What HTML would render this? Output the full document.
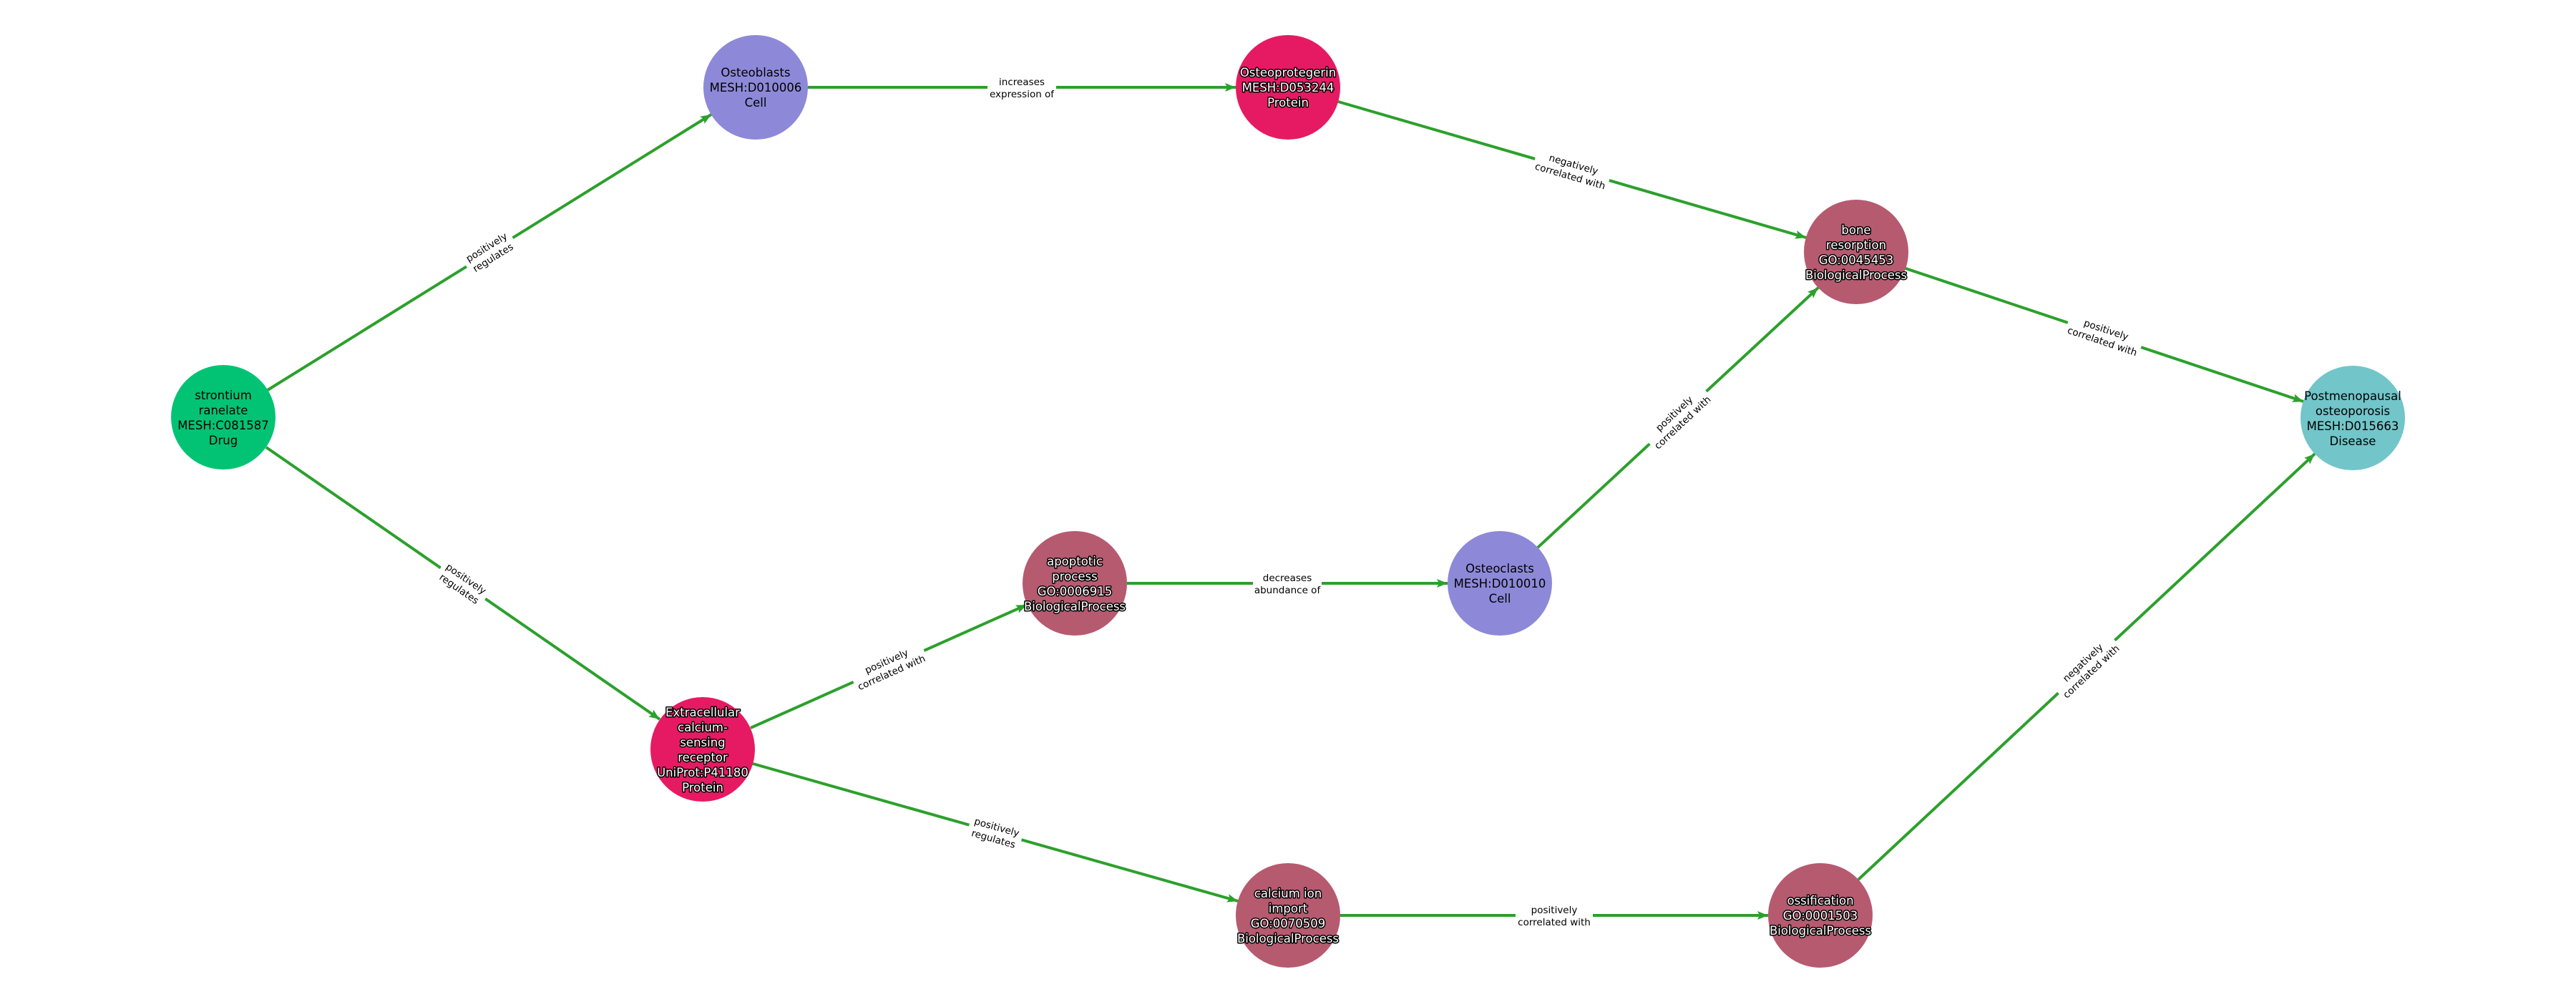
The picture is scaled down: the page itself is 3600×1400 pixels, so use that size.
<!DOCTYPE html>
<html><head><meta charset="utf-8"><style>
html,body{margin:0;padding:0;background:#fff;}
svg{display:block;}
.e{stroke:#2ca02c;stroke-width:4;fill:none;}
.lb text{font-family:"DejaVu Sans","Liberation Sans",sans-serif;font-size:13.5px;fill:#000;text-anchor:middle;}
.n text{font-family:"DejaVu Sans","Liberation Sans",sans-serif;font-size:16.5px;text-anchor:middle;}
.dk{fill:#000;}
.wt{fill:#fff;stroke:#000;stroke-width:3;paint-order:stroke;stroke-linejoin:round;}
</style></head><body>
<svg width="3600" height="1400" viewBox="0 0 3600 1400" xmlns="http://www.w3.org/2000/svg">
<defs>
<marker id="a" markerUnits="userSpaceOnUse" markerWidth="16" markerHeight="12" refX="15" refY="6" orient="auto">
<path d="M0,0 L15,6 L0,12 L3,6 z" fill="#2ca02c"/>
</marker>
</defs>
<g>
<line class="e" x1="374" y1="545" x2="994" y2="160" marker-end="url(#a)"/>
<line class="e" x1="372" y1="625" x2="922" y2="1005" marker-end="url(#a)"/>
<line class="e" x1="1129" y1="122" x2="1727" y2="122" marker-end="url(#a)"/>
<line class="e" x1="1870" y1="142" x2="2524" y2="332" marker-end="url(#a)"/>
<line class="e" x1="2663" y1="375" x2="3219" y2="561" marker-end="url(#a)"/>
<line class="e" x1="2149" y1="765" x2="2541" y2="402" marker-end="url(#a)"/>
<line class="e" x1="1575" y1="815" x2="2023" y2="815" marker-end="url(#a)"/>
<line class="e" x1="1049" y1="1017" x2="1435" y2="845" marker-end="url(#a)"/>
<line class="e" x1="1052" y1="1067" x2="1730" y2="1259" marker-end="url(#a)"/>
<line class="e" x1="1873" y1="1279" x2="2471" y2="1279" marker-end="url(#a)"/>
<line class="e" x1="2597" y1="1229" x2="3235" y2="634" marker-end="url(#a)"/>
</g>
<g class="lb">
<g transform="translate(684,352) rotate(-31.8)"><rect x="-38" y="-18" width="76" height="36" fill="#fff"/><text y="-3">positively</text><text y="14">regulates</text></g>
<g transform="translate(647,815) rotate(34.7)"><rect x="-38" y="-18" width="76" height="36" fill="#fff"/><text y="-3">positively</text><text y="14">regulates</text></g>
<g transform="translate(1428,122)"><rect x="-48" y="-18" width="96" height="36" fill="#fff"/><text y="-3">increases</text><text y="14">expression of</text></g>
<g transform="translate(2197,237) rotate(16.2)"><rect x="-54" y="-18" width="108" height="36" fill="#fff"/><text y="-3">negatively</text><text y="14">correlated with</text></g>
<g transform="translate(2941,468) rotate(18.5)"><rect x="-54" y="-18" width="108" height="36" fill="#fff"/><text y="-3">positively</text><text y="14">correlated with</text></g>
<g transform="translate(2345,583.5) rotate(-42.9)"><rect x="-54" y="-18" width="108" height="36" fill="#fff"/><text y="-3">positively</text><text y="14">correlated with</text></g>
<g transform="translate(1799,815)"><rect x="-48" y="-18" width="96" height="36" fill="#fff"/><text y="-3">decreases</text><text y="14">abundance of</text></g>
<g transform="translate(1242,931) rotate(-24)"><rect x="-54" y="-18" width="108" height="36" fill="#fff"/><text y="-3">positively</text><text y="14">correlated with</text></g>
<g transform="translate(1391,1163) rotate(15.8)"><rect x="-38" y="-18" width="76" height="36" fill="#fff"/><text y="-3">positively</text><text y="14">regulates</text></g>
<g transform="translate(2172,1279)"><rect x="-54" y="-18" width="108" height="36" fill="#fff"/><text y="-3">positively</text><text y="14">correlated with</text></g>
<g transform="translate(2916,931.5) rotate(-43)"><rect x="-54" y="-18" width="108" height="36" fill="#fff"/><text y="-3">negatively</text><text y="14">correlated with</text></g>
</g>
<g class="n">
<circle cx="312" cy="583" r="73" fill="#02c373"/>
<text class="dk" x="312" y="558">strontium</text><text class="dk" x="312" y="579">ranelate</text><text class="dk" x="312" y="600">MESH:C081587</text><text class="dk" x="312" y="621">Drug</text>

<circle cx="1056" cy="122" r="73" fill="#8d89d8"/>
<text class="dk" x="1056" y="107">Osteoblasts</text><text class="dk" x="1056" y="128">MESH:D010006</text><text class="dk" x="1056" y="149">Cell</text>

<circle cx="1800" cy="122" r="73" fill="#e61a62"/>
<text class="wt" x="1800" y="107">Osteoprotegerin</text><text class="wt" x="1800" y="128">MESH:D053244</text><text class="wt" x="1800" y="149">Protein</text>

<circle cx="2594" cy="352" r="73" fill="#b65a70"/>
<text class="wt" x="2594" y="327">bone</text><text class="wt" x="2594" y="348">resorption</text><text class="wt" x="2594" y="369">GO:0045453</text><text class="wt" x="2594" y="390">BiologicalProcess</text>

<circle cx="3288" cy="584" r="73" fill="#72c5c9"/>
<text class="dk" x="3288" y="559">Postmenopausal</text><text class="dk" x="3288" y="580">osteoporosis</text><text class="dk" x="3288" y="601">MESH:D015663</text><text class="dk" x="3288" y="622">Disease</text>

<circle cx="1502" cy="815" r="73" fill="#b65a70"/>
<text class="wt" x="1502" y="790">apoptotic</text><text class="wt" x="1502" y="811">process</text><text class="wt" x="1502" y="832">GO:0006915</text><text class="wt" x="1502" y="853">BiologicalProcess</text>

<circle cx="2096" cy="815" r="73" fill="#8d89d8"/>
<text class="dk" x="2096" y="800">Osteoclasts</text><text class="dk" x="2096" y="821">MESH:D010010</text><text class="dk" x="2096" y="842">Cell</text>

<circle cx="982" cy="1047" r="73" fill="#e61a62"/>
<text class="wt" x="982" y="1001">Extracellular</text><text class="wt" x="982" y="1022">calcium-</text><text class="wt" x="982" y="1043">sensing</text><text class="wt" x="982" y="1064">receptor</text><text class="wt" x="982" y="1085">UniProt:P41180</text><text class="wt" x="982" y="1106">Protein</text>

<circle cx="1800" cy="1279" r="73" fill="#b65a70"/>
<text class="wt" x="1800" y="1254">calcium ion</text><text class="wt" x="1800" y="1275">import</text><text class="wt" x="1800" y="1296">GO:0070509</text><text class="wt" x="1800" y="1317">BiologicalProcess</text>

<circle cx="2544" cy="1279" r="73" fill="#b65a70"/>
<text class="wt" x="2544" y="1264">ossification</text><text class="wt" x="2544" y="1285">GO:0001503</text><text class="wt" x="2544" y="1306">BiologicalProcess</text>
</g>
</svg>
</body></html>
